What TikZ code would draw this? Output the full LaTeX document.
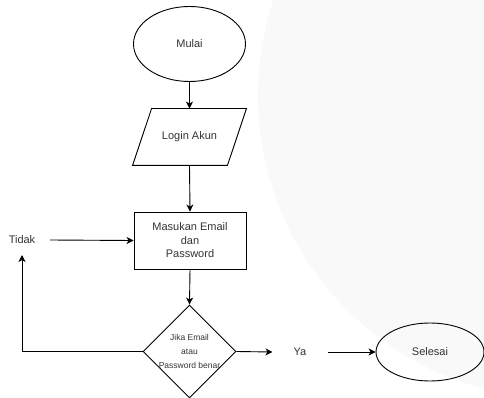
\documentclass[tikz,border=0pt]{standalone}
\usepackage{fontspec}
\setmainfont{Liberation Sans}
\usetikzlibrary{shapes.geometric,arrows.meta}
\begin{document}
\begin{tikzpicture}[x=1pt,y=-1pt,
  base/.style={draw=black, line width=0.9pt, text=black!80, inner sep=0pt, font=\fontsize{11}{13.5}\selectfont},
  terminal/.style={base, ellipse, minimum width=112pt, minimum height=75pt},
  io/.style={base, draw=none, rectangle, minimum width=94pt, minimum height=56pt},
  process/.style={base, rectangle, minimum width=112pt, minimum height=57pt, align=center},
  decision/.style={base, diamond, minimum width=93pt, minimum height=93pt},
  plain/.style={text=black!80, font=\fontsize{11}{13.5}\selectfont},
  small/.style={text=black!80, align=center, font=\fontsize{8.5}{14}\selectfont},
  arr/.style={draw=black, line width=0.9pt, -{Stealth[length=7pt,width=7pt,inset=2pt]}},
  ln/.style={draw=black, line width=0.9pt, line join=miter}]
\useasboundingbox (0,0) rectangle (484,398);
\begin{scope}
  \clip (0,0) rectangle (484,398);
  \fill[gray!5] (562,95) circle[radius=304pt];
\end{scope}
\node[terminal] (mulai) at (189.5,44) {Mulai};
\node[io] (login) at (189.5,137) {Login Akun};
\draw[ln] ([xshift=9.5pt]login.north west) -- ([xshift=9.5pt]login.north east)
  -- ([xshift=-9.5pt]login.south east) -- ([xshift=-9.5pt]login.south west) -- cycle;
\node[process] (masukan) at (190,240.5) {Masukan Email\\dan\\Password};
\node[decision] (cek) at (189.5,351.5) {};
\node[small] (cektext) at (cek.center) {Jika Email\\atau\\Password benar};
\node[plain] (tidak) at (22,240) {Tidak};
\node[plain, inner xsep=21pt] (ya) at (300,352) {Ya};
\node[terminal, minimum width=108pt, minimum height=58pt] (selesai) at (430,352) {Selesai};
\draw[arr] (mulai.south) -- (login.north);
\draw[arr] (login.south) -- (masukan.north);
\draw[arr] (masukan.south) -- (cek.north);
\draw[arr] (cek.west) -| ([yshift=-15pt]tidak.center);
\draw[arr] ([xshift=28pt]tidak.center) -- (masukan.west);
\draw[arr] (cek.east) -- (ya.west);
\draw[arr] (ya.east) -- (selesai.west);
\end{tikzpicture}
\end{document}
